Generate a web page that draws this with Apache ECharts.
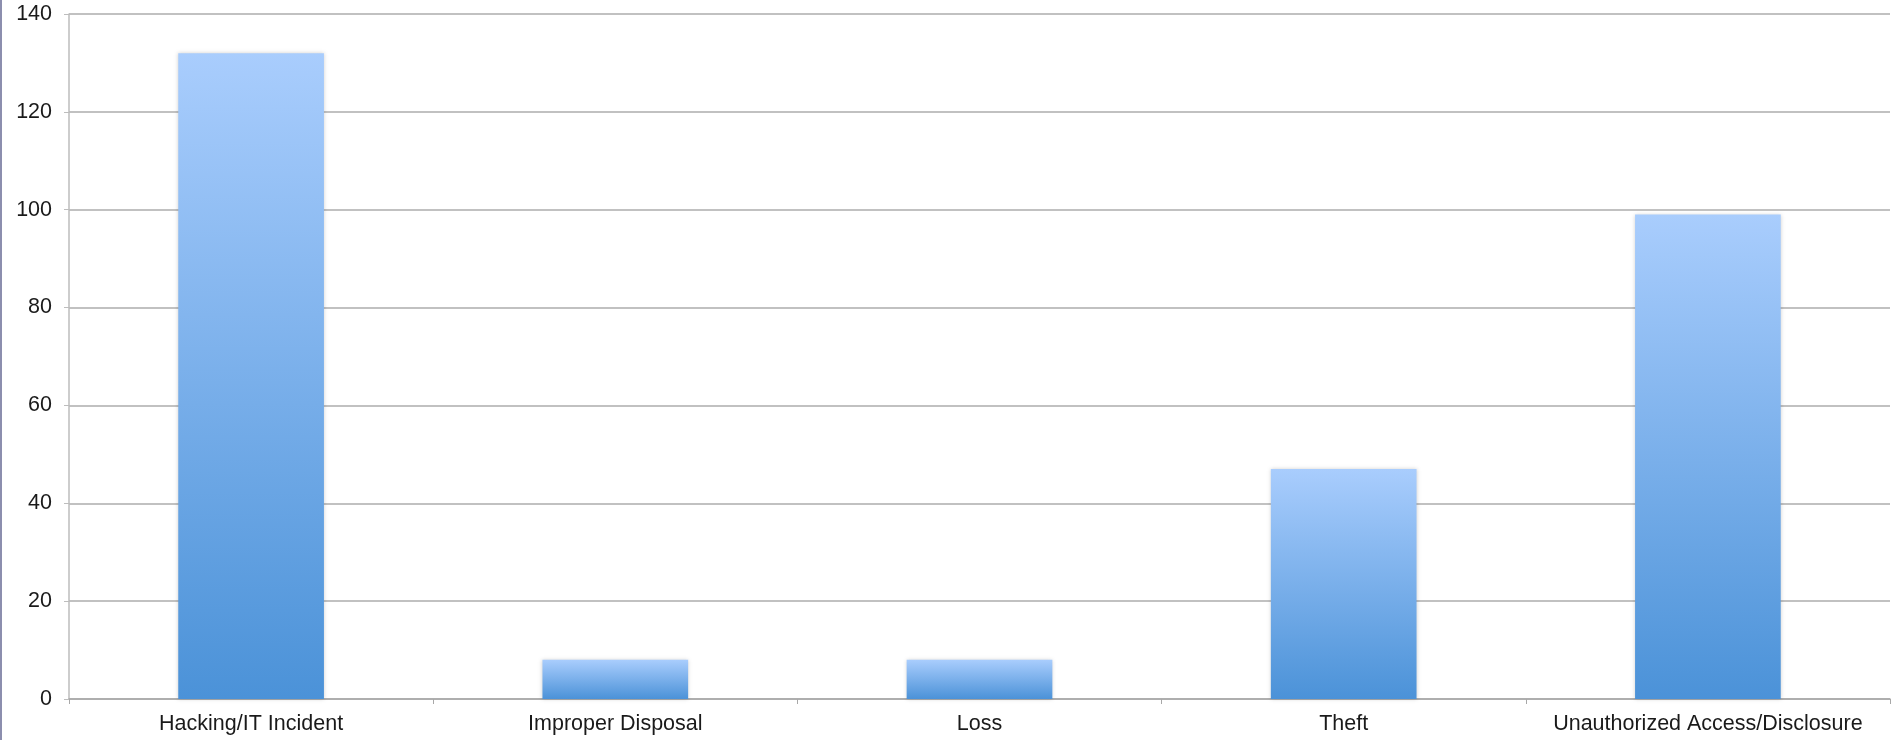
<!DOCTYPE html>
<html>
<head>
<meta charset="utf-8">
<script src="https://cdn.jsdelivr.net/npm/echarts@6/dist/echarts.min.js"></script>
<style>
html,body{margin:0;padding:0;background:#fff;}
#edge{position:absolute;left:0;top:0;width:2px;height:740px;background:#8c8eae;}
#chart{width:1895px;height:740px;}
</style>
</head>
<body>
<div id="edge"></div>
<div id="chart"></div>
<script>
const categories = ['Hacking/IT Incident', 'Improper Disposal', 'Loss', 'Theft', 'Unauthorized Access/Disclosure'];
const breaches = [132, 8, 8, 47, 99];
const yTicks = [0, 20, 40, 60, 80, 100, 120, 140];

const chart = echarts.init(document.getElementById('chart'));
chart.setOption({
  animation: false,
  grid: { left: 69, right: 5, top: 14, bottom: 41, containLabel: false },
  xAxis: {
    type: 'category',
    data: categories,
    boundaryGap: true,
    axisLine: { lineStyle: { color: '#a8a8a8', width: 1.5 } },
    axisTick: { show: true, interval: 0, length: 5, alignWithLabel: false, lineStyle: { color: '#a8a8a8' } },
    axisLabel: { interval: 0, hideOverlap: false, color: '#1a1a1a', fontSize: 21.5, fontFamily: 'Liberation Sans, Arial, sans-serif', margin: 14 }
  },
  yAxis: {
    type: 'value',
    min: yTicks[0],
    max: yTicks[yTicks.length - 1],
    interval: 20,
    axisLine: { show: true, lineStyle: { color: '#bdbdbd', width: 1.5 } },
    axisTick: { show: true, length: 5, lineStyle: { color: '#bdbdbd' } },
    axisLabel: { color: '#1a1a1a', fontSize: 21.5, fontFamily: 'Liberation Sans, Arial, sans-serif', margin: 17 },
    splitLine: { show: true, lineStyle: { color: '#adadad', width: 1.5 } }
  },
  series: [{
    type: 'bar',
    data: breaches,
    barWidth: '40%',
    itemStyle: {
      color: new echarts.graphic.LinearGradient(0, 0, 0, 1, [
        { offset: 0, color: '#a9cdfd' },
        { offset: 1, color: '#4b92d8' }
      ]),
      shadowColor: 'rgba(0,0,0,0.18)',
      shadowBlur: 4
    }
  }]
});
</script>
</body>
</html>
